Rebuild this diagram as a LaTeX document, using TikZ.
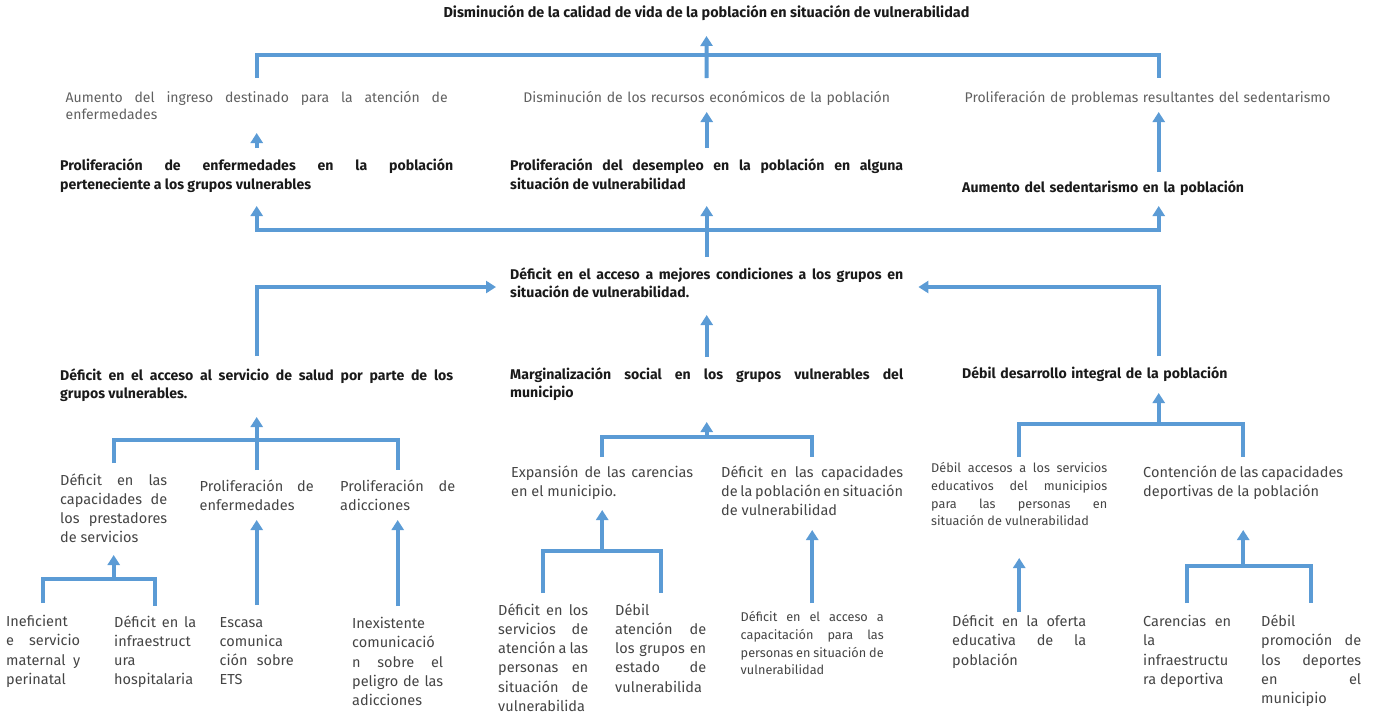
\documentclass[tikz,border=0pt]{standalone}
\usepackage{fontspec}
\setmainfont{Fira Sans}
\usepackage{xcolor}
\usepackage{tikz}
\usetikzlibrary{positioning, arrows.meta}

\definecolor{azul}{RGB}{91,155,213}
\definecolor{tinta}{RGB}{26,26,26}
\definecolor{gris}{RGB}{68,68,68}
\definecolor{grisclaro}{RGB}{96,96,96}

\hyphenpenalty=10000
\exhyphenpenalty=10000

\begin{document}
\begin{tikzpicture}[
    x=1pt, y=-1pt,
    titulo/.style={
        inner sep=0pt,
        anchor=base,
        text=tinta,
        font=\fontsize{14.4}{17}\selectfont\bfseries
    },
    causa/.style={
        inner sep=0pt,
        anchor=base west,
        align=justify,
        text width=393pt,
        text=tinta,
        font=\fontsize{14.1}{18.7}\selectfont\bfseries
    },
    consecuencia/.style={
        inner sep=0pt,
        anchor=base west,
        align=justify,
        text=grisclaro,
        font=\fontsize{14}{17.5}\selectfont
    },
    hoja/.style={
        inner sep=0pt,
        anchor=base west,
        align=justify,
        text=gris,
        font=\fontsize{14.5}{19.3}\selectfont
    },
    hojachica/.style={
        hoja,
        font=\fontsize{12.7}{17.8}\selectfont
    },
    barra/.style={draw=azul, line width=4pt},
    arrow/.style={barra, -{Triangle[width=12pt, length=10pt]}}
]
\useasboundingbox (0,0) rectangle (1373,713);

% --- Efecto principal y consecuencias ---
\node[titulo] (efecto) at (706.5,17) {Disminución de la calidad de vida de la población en situación de vulnerabilidad};

\node[consecuencia, text width=382pt] (ingreso) at (65.5,102) {Aumento del ingreso destinado para la atención de\linebreak enfermedades};
\node[consecuencia, text width=393pt, align=center] (recursos) at (510,102) {Disminución de los recursos económicos de la población};
\node[consecuencia, text width=388pt, align=left] (problemas) at (964.5,102) {Proliferación de problemas resultantes del sedentarismo};

% --- Efectos directos ---
\node[causa] (enfermedades) at (60,170.5) {Proliferación de enfermedades en la población\linebreak perteneciente a los grupos vulnerables};
\node[causa] (desempleo) at (510,170.5) {Proliferación del desempleo en la población en alguna\linebreak situación de vulnerabilidad};
\node[causa, align=left] (sedentarismo) at (962,192.5) {Aumento del sedentarismo en la población};

% --- Problema central ---
\node[causa] (central) at (510,279) {Déficit en el acceso a mejores condiciones a los grupos en\linebreak situación de vulnerabilidad.};

% --- Causas directas ---
\node[causa] (salud) at (60,380) {Déficit en el acceso al servicio de salud por parte de los\linebreak grupos vulnerables.};
\node[causa] (marginacion) at (510,379) {Marginalización social en los grupos vulnerables del\linebreak municipio};
\node[causa, align=left] (desarrollo) at (962,378) {Débil desarrollo integral de la población};

% --- Causas indirectas ---
\node[hoja, text width=107pt] (prestadores) at (60,485) {Déficit en las\linebreak capacidades de\linebreak los prestadores\linebreak de servicios};
\node[hoja, text width=114pt] (proenf) at (199.5,491.5) {Proliferación de\linebreak enfermedades};
\node[hoja, text width=115pt] (proadic) at (340,491.5) {Proliferación de\linebreak adicciones};
\node[hoja, text width=182pt] (expansion) at (511,477) {Expansión de las carencias\linebreak en el municipio.};
\node[hoja, text width=182pt] (capacidades) at (721,477) {Déficit en las capacidades\linebreak de la población en situación\linebreak de vulnerabilidad};
\node[hojachica, text width=176pt] (educativos) at (931,472.5) {Débil accesos a los servicios\linebreak educativos del municipios\linebreak para las personas en\linebreak situación de vulnerabilidad};
\node[hoja, text width=200pt] (contencion) at (1143,477) {Contención de las capacidades\linebreak deportivas de la población};

% --- Causas de fondo ---
\node[hoja, text width=74pt] (materno) at (6,626.5) {Ineficient\linebreak e servicio\linebreak maternal y\linebreak perinatal};
\node[hoja, text width=82pt] (hospital) at (114,627) {Déficit en la\linebreak infraestruct\linebreak ura\linebreak hospitalaria};
\node[hoja, text width=74pt] (ets) at (219.5,627) {Escasa\linebreak comunica\linebreak ción sobre\linebreak ETS};
\node[hoja, text width=91pt] (peligro) at (352,628.5) {Inexistente\linebreak comunicació\linebreak n sobre el\linebreak peligro de las\linebreak adicciones};
\node[hoja, text width=90pt] (atencion) at (498,615) {Déficit en los\linebreak servicios de\linebreak atención a las\linebreak personas en\linebreak situación de\linebreak vulnerabilida};
\node[hoja, text width=91pt] (estado) at (615,615) {Débil\linebreak atención de\linebreak los grupos en\linebreak estado de\linebreak vulnerabilida};
\node[hojachica, text width=143pt] (capacitacion) at (740.5,621.5) {Déficit en el acceso a\linebreak capacitación para las\linebreak personas en situación de\linebreak vulnerabilidad};
\node[hoja, text width=134pt] (oferta) at (952,626.5) {Déficit en la oferta\linebreak educativa de la\linebreak población};
\node[hoja, text width=88pt] (infradep) at (1143,626.5) {Carencias en\linebreak la\linebreak infraestructu\linebreak ra deportiva};
\node[hoja, text width=100pt] (promocion) at (1261,626.5) {Débil\linebreak promoción de\linebreak los deportes\linebreak en el\linebreak municipio};

% --- Flechas hacia el efecto principal ---
\draw[barra] (ingreso.north |- 0,78) |- (problemas.north |- 0,55) -- (problemas.north |- 0,78);
\draw[arrow] (recursos.north |- 0,78) -- (efecto.south |- 0,36);
\draw[arrow] (enfermedades.north |- 0,148) -- (ingreso.south |- 0,133);
\draw[arrow] (desempleo.north |- 0,148) -- (recursos.south |- 0,112);
\draw[arrow] (sedentarismo.north |- 0,172) -- (problemas.south |- 0,112);

% --- Flechas del problema central ---
\draw[arrow] (central.north |- 0,257) -- (desempleo.south |- 0,206);
\draw[arrow] (desempleo.south |- 0,230) -| (enfermedades.south |- 0,206);
\draw[arrow] (desempleo.south |- 0,230) -| (sedentarismo.south |- 0,206);
\draw[arrow, shorten >=14pt] (salud.north |- 0,356) |- (central.west |- 0,287);
\draw[arrow, shorten >=15pt] (desarrollo.north |- 0,356) |- (central.east |- 0,287);
\draw[arrow] (marginacion.north |- 0,357) -- (central.south |- 0,315);

% --- Ramas de las causas ---
\draw[barra] (prestadores.north |- 0,463) |- (proadic.north |- 0,440) -- (proadic.north |- 0,470);
\draw[arrow] (proenf.north |- 0,470) -- (salud.south |- 0,417);
\draw[barra] (expansion.north |- 0,457) |- (capacidades.north |- 0,437) -- (capacidades.north |- 0,457);
\draw[arrow] (marginacion.south |- 0,437) -- (marginacion.south |- 0,422);
\draw[barra] (educativos.north |- 0,457) |- (contencion.north |- 0,424) -- (contencion.north |- 0,457);
\draw[arrow] (desarrollo.south |- 0,424) -- (desarrollo.south |- 0,393);

\draw[barra] (materno.north |- 0,603) |- (hospital.north |- 0,579) -- (hospital.north |- 0,606);
\draw[arrow] (prestadores.south |- 0,579) -- (prestadores.south |- 0,555);
\draw[arrow] (ets.north |- 0,605) -- (proenf.south |- 0,520);
\draw[arrow] (peligro.north |- 0,606) -- (proadic.south |- 0,520);
\draw[barra] (atencion.north |- 0,593) |- (estado.north |- 0,551) -- (estado.north |- 0,593);
\draw[arrow] (expansion.south |- 0,551) -- (expansion.south |- 0,510);
\draw[arrow] (capacitacion.north |- 0,603) -- (capacidades.south |- 0,530);
\draw[arrow] (oferta.north |- 0,612) -- (educativos.south |- 0,558);
\draw[barra] (infradep.north |- 0,603) |- (promocion.north |- 0,566) -- (promocion.north |- 0,603);
\draw[arrow] (contencion.south |- 0,566) -- (contencion.south |- 0,530);

\end{tikzpicture}
\end{document}
